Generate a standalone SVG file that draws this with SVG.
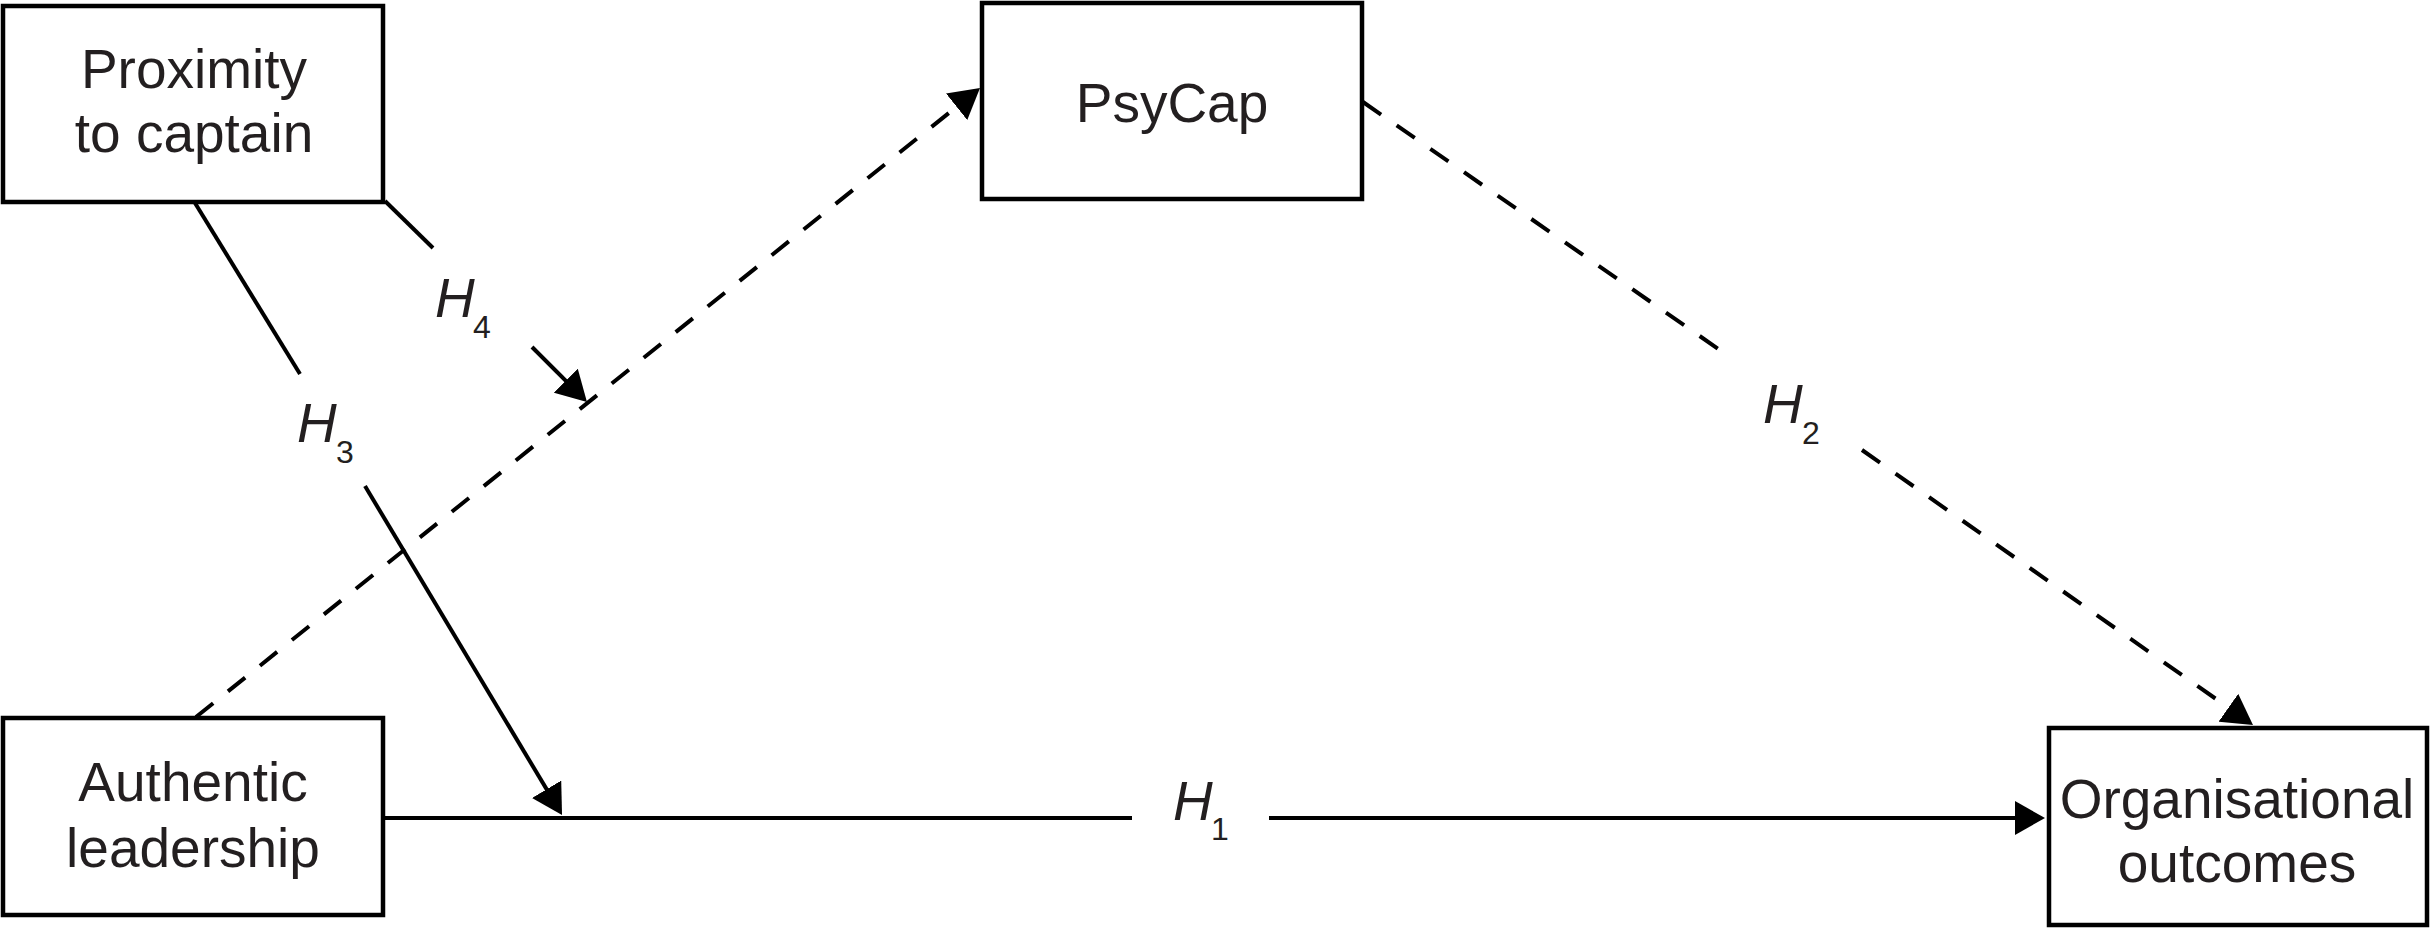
<svg xmlns="http://www.w3.org/2000/svg" width="2433" height="928" viewBox="0 0 2433 928">
<style>
.box{fill:#fff;stroke:#000;stroke-width:4.5}
.lbl{font-family:"Liberation Sans",Arial,sans-serif;font-size:55px;fill:#231f20;text-anchor:middle}
.h{font-family:"Liberation Sans",Arial,sans-serif;font-size:55px;font-style:italic;fill:#231f20}
.sub{font-family:"Liberation Sans",Arial,sans-serif;font-size:32px;fill:#231f20}
.ln{fill:none;stroke:#000;stroke-width:4}
.dash{stroke-dasharray:22 19}
</style>
<defs>
<marker id="arr" markerUnits="userSpaceOnUse" viewBox="0 0 30 34" refX="20" refY="17" markerWidth="30" markerHeight="34" orient="auto">
<path d="M0,0 L30,17 L0,34 z" fill="#000"/>
</marker>
</defs>
<rect width="2433" height="928" fill="#fff"/>
<g id="connectors">
<line class="ln" x1="383" y1="818" x2="1132" y2="818"/>
<line class="ln" x1="1269" y1="818" x2="2035" y2="818" marker-end="url(#arr)"/>
<line class="ln" x1="195" y1="203" x2="300" y2="374"/>
<line class="ln" x1="365" y1="486" x2="556.9" y2="806.4" marker-end="url(#arr)"/>
<line class="ln" x1="385" y1="201" x2="433" y2="248"/>
<line class="ln" x1="532" y1="347" x2="579.9" y2="394.9" marker-end="url(#arr)"/>
<line class="ln dash" x1="196" y1="717" x2="972.2" y2="94.3" marker-end="url(#arr)"/>
<line class="ln dash" x1="1363" y1="102" x2="1727" y2="355"/>
<line class="ln dash" x1="1862" y1="450" x2="2244.8" y2="719.2" marker-end="url(#arr)"/>
<text class="h" x="1173" y="820">H</text><text class="sub" x="1211" y="840">1</text>
<text class="h" x="1763" y="423">H</text><text class="sub" x="1802" y="444">2</text>
<text class="h" x="297" y="442">H</text><text class="sub" x="336" y="463">3</text>
<text class="h" x="435" y="317">H</text><text class="sub" x="473" y="338">4</text>
</g>
<g id="proximity">
<rect class="box" x="3" y="6" width="380" height="196"/>
<text class="lbl" x="194" y="88">Proximity</text>
<text class="lbl" x="194" y="152">to captain</text>
</g>
<g id="psycap">
<rect class="box" x="982" y="3" width="380" height="196"/>
<text class="lbl" x="1172" y="122">PsyCap</text>
</g>
<g id="authentic">
<rect class="box" x="3" y="718" width="380" height="197"/>
<text class="lbl" x="193" y="801">Authentic</text>
<text class="lbl" x="193" y="867">leadership</text>
</g>
<g id="outcomes">
<rect class="box" x="2049" y="728" width="378" height="197"/>
<text class="lbl" x="2237" y="818">Organisational</text>
<text class="lbl" x="2237" y="882">outcomes</text>
</g>
</svg>
